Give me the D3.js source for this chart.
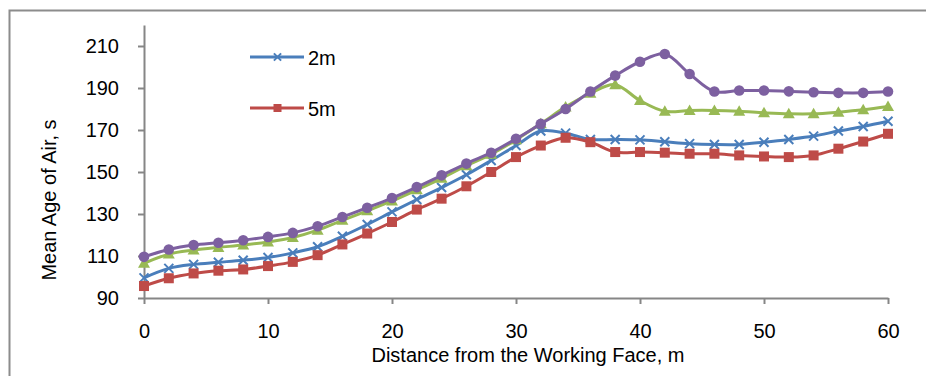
<!DOCTYPE html>
<html>
<head>
<meta charset="utf-8">
<script src="https://cdn.jsdelivr.net/npm/d3@7"></script>
<style>
  body { margin: 0; background: #fff; }
  svg { display: block; font-family: Arial, "Liberation Sans", sans-serif; }
</style>
</head>
<body>
<svg id="chart"></svg>
<script>
// distance from the working face, m
const distances = d3.range(0, 61, 2)
const xTicks = [0, 10, 20, 30, 40, 50, 60]
const yTicks = [90, 110, 130, 150, 170, 190, 210]

const s2m = [99.6, 104.1, 106, 107, 108, 109.3, 111.5, 114.4, 119.4, 125, 131, 136.9, 142.6, 148.7, 155.5, 162.6,
  169.5, 168.5, 165.5, 165.5, 165.3, 164.4, 163.5, 163.1, 163.1, 164.2, 165.5, 167.1, 169.5, 171.7, 174.2]
const s5m = [95.7, 99.4, 101.7, 103, 103.6, 105.2, 107.2, 110.4, 115.5, 120.7, 126.2, 132.1, 137.3, 143.2, 150, 157.1,
  162.6, 166.3, 164.2, 159.5, 159.5, 159.2, 158.7, 158.7, 157.9, 157.4, 157.1, 157.9, 161.1, 164.5, 168.2]
const sGreen = [106.5, 110.9, 112.8, 114.1, 115.2, 116.7, 118.8, 122.3, 127, 131.5, 136.2, 141.5, 147, 153, 158.5, 165.3,
  173, 181, 187.5, 191.6, 184, 178.9, 179.3, 179.3, 178.9, 178.2, 177.7, 177.7, 178.5, 179.6, 181.2]
const sPurple = [109.6, 113.1, 115.2, 116.3, 117.5, 119.1, 121, 124.2, 128.6, 133, 137.6, 142.8, 148.4, 154, 159.2, 165.8,
  172.9, 180, 188.3, 195.9, 202.5, 206.2, 196.7, 188.3, 188.8, 188.8, 188.4, 188, 187.7, 187.7, 188.3]

const width = 926
const height = 376
const margin = { left: 144, right: 38, top: 25, bottom: 78 }

const svg = d3.select('#chart')
  .attr('width', width)
  .attr('height', height)

// outer chart frame (right and bottom edges run off the picture)
svg.append('rect')
  .attr('x', 9.5).attr('y', 10.5)
  .attr('width', 940).attr('height', 400)
  .attr('fill', 'none')
  .attr('stroke', '#8c8c8c')
  .attr('stroke-width', 2)

const x = d3.scaleLinear().domain([0, 60]).range([margin.left, width - margin.right])
const y = d3.scaleLinear().domain([90, 220]).range([height - margin.bottom, margin.top])

const axisColor = '#868686'

// x axis
const gx = svg.append('g')
  .attr('transform', 'translate(0,' + y(90) + ')')
  .call(d3.axisBottom(x).tickValues(xTicks).tickSize(6).tickPadding(20).tickSizeOuter(0))
gx.select('.domain').attr('stroke', axisColor).attr('stroke-width', 2)
gx.selectAll('.tick line').attr('stroke', axisColor).attr('stroke-width', 2)
gx.selectAll('.tick text').attr('fill', '#000').style('font-size', '20px')

// y axis
const gy = svg.append('g')
  .attr('transform', 'translate(' + x(0) + ',0)')
  .call(d3.axisLeft(y).tickValues(yTicks).tickSize(6).tickPadding(19).tickSizeOuter(0))
gy.select('.domain').attr('stroke', axisColor).attr('stroke-width', 2)
gy.selectAll('.tick line').attr('stroke', axisColor).attr('stroke-width', 2)
gy.selectAll('.tick text').attr('fill', '#000').style('font-size', '20px')

// axis titles
svg.append('text')
  .attr('x', 528).attr('y', 362)
  .attr('text-anchor', 'middle')
  .style('font-size', '20px')
  .text('Distance from the Working Face, m')
svg.append('text')
  .attr('transform', 'translate(56,200) rotate(-90)')
  .attr('text-anchor', 'middle')
  .style('font-size', '20px')
  .text('Mean Age of Air, s')

const series = [
  { name: '2m', values: s2m, color: '#4a7ebb', marker: 'x' },
  { name: '5m', values: s5m, color: '#be4b48', marker: 'square' },
  { name: 'green', values: sGreen, color: '#98b954', marker: 'triangle' },
  { name: 'purple', values: sPurple, color: '#7d60a0', marker: 'circle' }
]

const line = d3.line()
  .x((d, i) => x(distances[i]))
  .y(d => y(d))
  .curve(d3.curveCatmullRom.alpha(0.5))

function drawMarker(g, type, color, cx, cy, scale) {
  const k = scale || 1
  if (type === 'x') {
    const r = 4.5 * k
    g.append('path')
      .attr('d', `M${cx - r},${cy - r}L${cx + r},${cy + r}M${cx - r},${cy + r}L${cx + r},${cy - r}`)
      .attr('stroke', color).attr('stroke-width', 2)
  } else if (type === 'square') {
    const r = 5 * k
    g.append('rect')
      .attr('x', cx - r).attr('y', cy - r)
      .attr('width', 2 * r).attr('height', 2 * r)
      .attr('fill', color)
  } else if (type === 'triangle') {
    const r = 6 * k
    g.append('path')
      .attr('d', `M${cx},${cy - r}L${cx + r},${cy + r * 0.75}L${cx - r},${cy + r * 0.75}Z`)
      .attr('fill', color)
  } else {
    g.append('circle')
      .attr('cx', cx).attr('cy', cy).attr('r', 5.3 * k)
      .attr('fill', color)
  }
}

series.forEach(s => {
  const g = svg.append('g')
  g.append('path')
    .attr('d', line(s.values))
    .attr('fill', 'none')
    .attr('stroke', s.color)
    .attr('stroke-width', 3)
  s.values.forEach((v, i) => drawMarker(g, s.marker, s.color, x(distances[i]), y(v)))
})

// legend (only the first two series are listed)
const legendY = [57, 108]
series.slice(0, 2).forEach((s, i) => {
  const g = svg.append('g')
  g.append('line')
    .attr('x1', 250).attr('x2', 304)
    .attr('y1', legendY[i]).attr('y2', legendY[i])
    .attr('stroke', s.color).attr('stroke-width', 3)
  drawMarker(g, s.marker, s.color, 277.5, legendY[i], 0.8)
  g.append('text')
    .attr('x', 308).attr('y', legendY[i] + 8)
    .style('font-size', '20px')
    .text(s.name)
})
</script>
</body>
</html>
